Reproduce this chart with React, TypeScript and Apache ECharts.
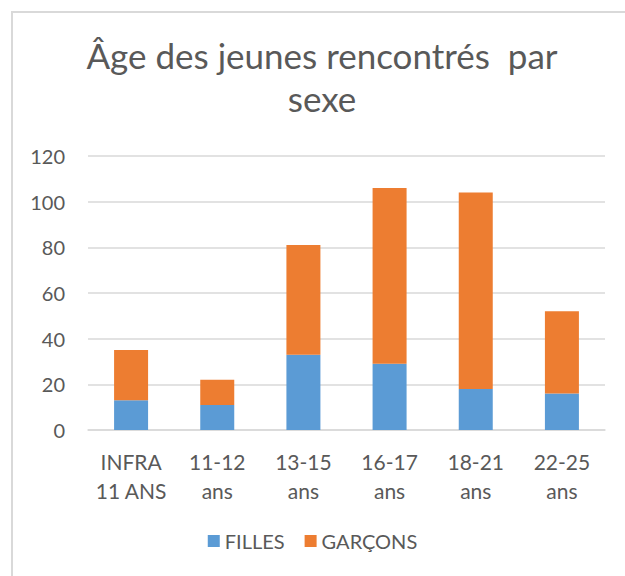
import React, { useEffect, useRef } from "react";
import * as echarts from "echarts";

const categories = ["INFRA\n11 ANS", "11-12\nans", "13-15\nans", "16-17\nans", "18-21\nans", "22-25\nans"];
const filles = [13, 11, 33, 29, 18, 16];
const garcons = [22, 11, 48, 77, 86, 36];
const seriesNames = ["FILLES", "GARÇONS"];
const titleText = "Âge des jeunes rencontrés  par\nsexe";

const FONT = "Lato, 'Open Sans', sans-serif";
const TEXT = "#595959";

export default function App() {
  const ref = useRef<HTMLDivElement>(null);
  useEffect(() => {
    if (!ref.current) return;
    const chart = echarts.init(ref.current, undefined, { renderer: "svg" });
    chart.setOption({
      animation: false,
      backgroundColor: "#ffffff",
      textStyle: { fontFamily: FONT },
      graphic: [
        {
          type: "rect",
          shape: { x: 12, y: 12, width: 700, height: 700 },
          style: { fill: "none", stroke: "#d9d9d9", lineWidth: 2 },
          silent: true,
        },
      ],
      title: {
        text: titleText,
        left: 317,
        top: 28,
        textAlign: "center",
        textStyle: {
          fontFamily: FONT,
          fontSize: 35,
          fontWeight: "normal",
          color: TEXT,
          lineHeight: 43,
        },
      },
      legend: {
        data: seriesNames,
        bottom: 20,
        left: "center",
        icon: "rect",
        itemWidth: 12,
        itemHeight: 12,
        itemGap: 20,
        textStyle: { fontFamily: FONT, fontSize: 20, color: TEXT },
      },
      grid: { left: 88, right: 20, top: 156, bottom: 146, containLabel: false },
      xAxis: {
        type: "category",
        data: categories,
        axisLine: { show: true, lineStyle: { color: "#d9d9d9", width: 1.5 } },
        axisTick: { show: false },
        axisLabel: {
          fontFamily: FONT,
          fontSize: 21,
          color: TEXT,
          lineHeight: 29,
          margin: 17,
          interval: 0,
        },
      },
      yAxis: {
        type: "value",
        min: 0,
        max: 120,
        interval: 20,
        axisLine: { show: false },
        axisTick: { show: false },
        splitLine: { lineStyle: { color: "#d9d9d9", width: 1.5 } },
        axisLabel: { fontFamily: FONT, fontSize: 20, color: TEXT, margin: 23 },
      },
      series: [
        {
          name: seriesNames[0],
          type: "bar",
          stack: "total",
          data: filles,
          barWidth: 34,
          itemStyle: { color: "#5B9BD5" },
        },
        {
          name: seriesNames[1],
          type: "bar",
          stack: "total",
          data: garcons,
          barWidth: 34,
          itemStyle: { color: "#ED7D31" },
        },
      ],
    });
    return () => chart.dispose();
  }, []);
  return (
    <div
      ref={ref}
      style={{ position: "fixed", left: 0, top: 0, width: 625, height: 576 }}
    />
  );
}
